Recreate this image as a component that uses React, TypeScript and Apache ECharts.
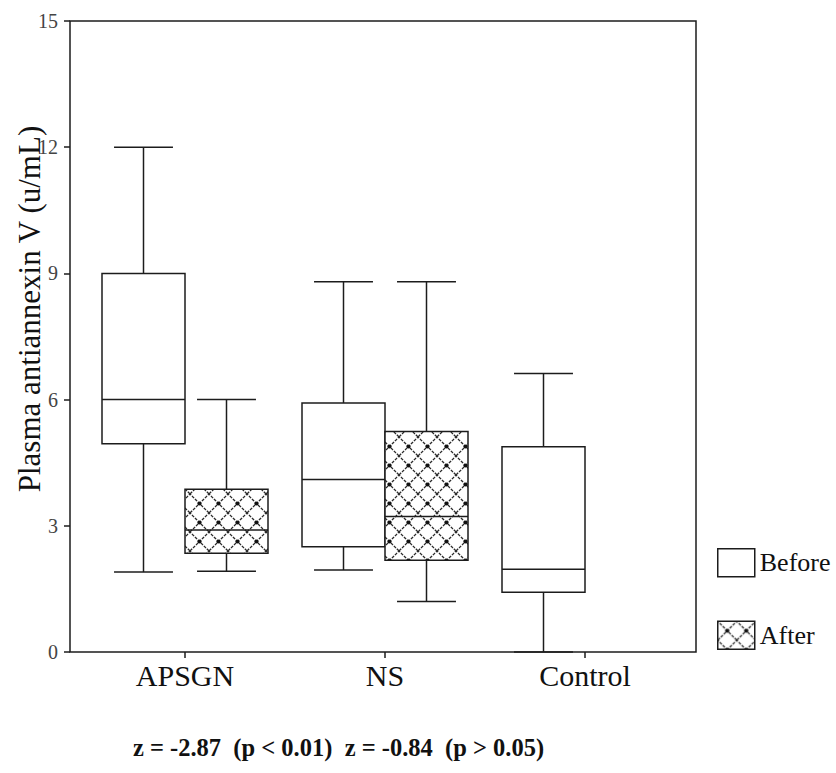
import React, { useEffect, useRef } from "react";
import * as echarts from "echarts";

const categories = ["APSGN", "NS", "Control"];
// [min, Q1, median, Q3, max]
const beforeStats = [
  [1.9, 4.95, 6.0, 9.0, 12.0],
  [1.95, 2.5, 4.1, 5.92, 8.8],
  [0, 1.42, 1.97, 4.88, 6.62],
];
const afterStats = [
  [1.92, 2.35, 2.9, 3.87, 6.0],
  [1.2, 2.18, 3.22, 5.24, 8.8],
];
const yTicks = { min: 0, max: 15, interval: 3 };
const yName = "Plasma antiannexin V (u/mL)";
const footnote = "z = -2.87  (p < 0.01)  z = -0.84  (p > 0.05)";

const SERIF = "'Liberation Serif', 'Times New Roman', serif";
const INK = "#1c1c1c";

function makePattern(): HTMLCanvasElement {
  const s = 19;
  const c = document.createElement("canvas");
  c.width = s;
  c.height = s;
  const g = c.getContext("2d")!;
  g.fillStyle = "#ffffff";
  g.fillRect(0, 0, s, s);
  g.strokeStyle = "#2a2a2a";
  g.lineWidth = 1.3;
  g.setLineDash([3, 1.2]);
  g.beginPath();
  g.moveTo(-1, -1);
  g.lineTo(s + 1, s + 1);
  g.moveTo(s + 1, -1);
  g.lineTo(-1, s + 1);
  g.stroke();
  g.setLineDash([]);
  g.fillStyle = "#111";
  g.beginPath();
  g.arc(s / 2, s / 2, 2.1, 0, Math.PI * 2);
  g.fill();
  return c;
}

function toData(stats: number[][]) {
  return stats.map((s, i) => [i, ...s]);
}

function makeRenderItem(side: number, fill: any) {
  return (params: any, api: any) => {
    const xi = api.value(0);
    const v = [1, 2, 3, 4, 5].map((k) => api.value(k));
    const band = api.size([1, 0])[0];
    const boxW = band * 0.415;
    const capW = boxW * 0.71;
    const cx = api.coord([xi, 0])[0] + (side * boxW) / 2;
    const y = v.map((val: number) => api.coord([xi, val])[1]);
    const left = cx - boxW / 2;
    const ls = { stroke: INK, lineWidth: 1.5 };
    return {
      type: "group",
      children: [
        { type: "line", shape: { x1: cx, y1: y[0], x2: cx, y2: y[1] }, style: ls },
        { type: "line", shape: { x1: cx, y1: y[3], x2: cx, y2: y[4] }, style: ls },
        { type: "line", shape: { x1: cx - capW / 2, y1: y[0], x2: cx + capW / 2, y2: y[0] }, style: ls },
        { type: "line", shape: { x1: cx - capW / 2, y1: y[4], x2: cx + capW / 2, y2: y[4] }, style: ls },
        {
          type: "rect",
          shape: { x: left, y: y[3], width: boxW, height: y[1] - y[3] },
          style: { fill, stroke: INK, lineWidth: 1.5 },
        },
        { type: "line", shape: { x1: left, y1: y[2], x2: left + boxW, y2: y[2] }, style: ls },
      ],
    };
  };
}

export default function App() {
  const ref = useRef<HTMLDivElement>(null);
  useEffect(() => {
    if (!ref.current) return;
    const chart = echarts.init(ref.current, null, { renderer: "svg" });
    const pattern = { image: makePattern(), repeat: "repeat" };
    chart.setOption({
      animation: false,
      backgroundColor: "#ffffff",
      grid: [
        { left: 85, width: 600, top: 21, bottom: 121 },
        {
          left: 70,
          right: 140,
          top: 21,
          bottom: 121,
          show: true,
          borderColor: INK,
          borderWidth: 1.5,
          backgroundColor: "transparent",
        },
      ],
      xAxis: [
        {
          type: "category",
          data: categories,
          gridIndex: 0,
          axisLine: { show: false },
          axisTick: { show: true, alignWithLabel: true, length: 6, lineStyle: { color: INK, width: 1.5 } },
          axisLabel: { fontFamily: SERIF, fontSize: 30, color: "#111", margin: 8 },
          splitLine: { show: false },
        },
        { type: "value", gridIndex: 1, show: false },
      ],
      yAxis: [
        {
          type: "value",
          gridIndex: 0,
          min: yTicks.min,
          max: yTicks.max,
          interval: yTicks.interval,
          offset: 15,
          axisLine: { show: false },
          axisTick: { show: true, length: 6, lineStyle: { color: INK, width: 1.5 } },
          axisLabel: { fontFamily: SERIF, fontSize: 20, color: "#444", margin: 12 },
          splitLine: { show: false },
        },
        { type: "value", gridIndex: 1, show: false },
      ],
      legend: {
        orient: "vertical",
        left: 712,
        top: 543,
        itemWidth: 37,
        itemHeight: 28,
        itemGap: 43,
        selectedMode: false,
        textStyle: { fontFamily: SERIF, fontSize: 26, color: "#111", padding: [0, 0, 0, 0] },
        data: [
          { name: "Before", icon: "rect", itemStyle: { color: "#ffffff", borderColor: INK, borderWidth: 1.5 } },
          { name: "After", icon: "rect", itemStyle: { color: pattern, borderColor: INK, borderWidth: 1.5 } },
        ],
      },
      graphic: [
        {
          type: "text",
          x: 29,
          y: 309,
          rotation: Math.PI / 2,
          z: 1,
          style: {
            text: yName,
            fontFamily: SERIF,
            fontSize: 31,
            fill: "#111",
            align: "center",
            verticalAlign: "middle",
          },
        },
        {
          type: "text",
          x: 133,
          y: 747,
          style: {
            text: footnote,
            fontFamily: SERIF,
            fontSize: 24.5,
            fontWeight: "bold",
            fill: "#111",
            align: "left",
            verticalAlign: "middle",
          },
        },
      ],
      series: [
        {
          name: "Before",
          type: "custom",
          xAxisIndex: 0,
          yAxisIndex: 0,
          itemStyle: { color: "#ffffff", borderColor: INK },
          encode: { x: 0, y: [1, 2, 3, 4, 5] },
          renderItem: makeRenderItem(-1, "#ffffff"),
          data: toData(beforeStats),
          z: 3,
        },
        {
          name: "After",
          type: "custom",
          xAxisIndex: 0,
          yAxisIndex: 0,
          itemStyle: { color: pattern, borderColor: INK },
          encode: { x: 0, y: [1, 2, 3, 4, 5] },
          renderItem: makeRenderItem(1, pattern),
          data: toData(afterStats),
          z: 3,
        },
      ],
    });
    return () => chart.dispose();
  }, []);
  return (
    <div
      ref={ref}
      style={{ position: "absolute", left: 0, top: 0, width: 836, height: 773 }}
    />
  );
}
